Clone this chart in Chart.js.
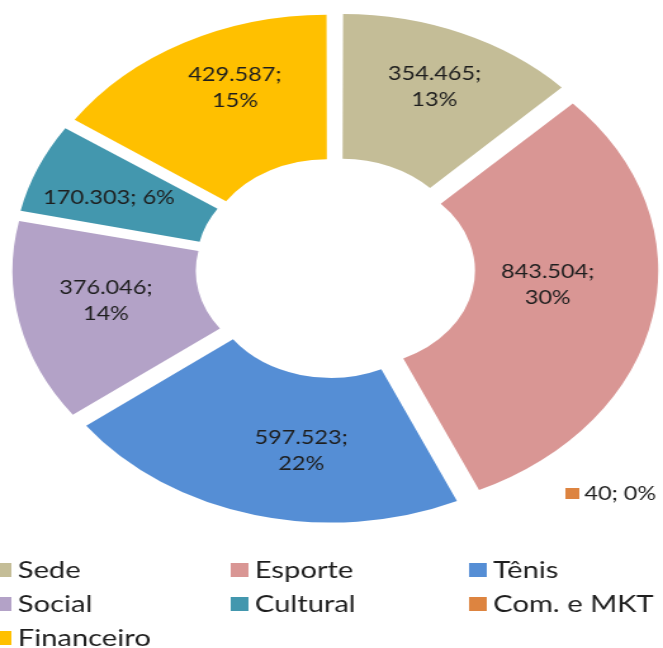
<!DOCTYPE html>
<html><head><meta charset="utf-8">
<script src="https://cdn.jsdelivr.net/npm/chart.js@4.4.1/dist/chart.umd.min.js"></script>
<style>
html,body{margin:0;padding:0;background:#fff;overflow:hidden;width:663px;height:648px;}
#wrap{position:absolute;left:0;top:0;width:523px;height:648px;transform:scaleX(1.2677);transform-origin:0 0;}
canvas{display:block;}
</style></head><body>
<div id="wrap"><canvas id="c" width="523" height="648"></canvas></div>
<script>
// ---- data ----
const categories = ['Sede', 'Esporte', 'Com. e MKT', 'Tênis', 'Social', 'Cultural', 'Financeiro'];
const values = [354465, 843504, 40, 597523, 376046, 170303, 429587];
const percentLabels = ['13%', '30%', '0%', '22%', '14%', '6%', '15%'];
const legendOrder = ['Sede', 'Esporte', 'Tênis', 'Social', 'Cultural', 'Com. e MKT', 'Financeiro'];

// ---- styles / layout ----
const colors = ['#C4BD97', '#D99694', '#DD8440', '#558ED5', '#B3A2C7', '#4397AE', '#FFC000'];
const OFFSET = 56;            // Chart.js v4 translates an arc by offset/4
const TEXT = '#1e1e1e';
// small manual placement tweaks of the data labels (canvas px), like Excel's label layout
const labelNudge = [[6, -11], [-17, -18], [0, 0], [20, 1], [0, -7], [-13, 1], [8, -15]];

function fmt(n) { return String(n).replace(/\B(?=(\d{3})+(?!\d))/g, '.'); }
const total = values.reduce((a, b) => a + b, 0);

// Keep exploded slices at the same radius (undo Chart.js' small-arc radius bump)
const explodeFix = {
  id: 'explodeFix',
  afterDatasetUpdate(chart, args) {
    const meta = args.meta || chart.getDatasetMeta(args.index);
    meta.data.forEach(arc => {
      const off = OFFSET / 4;
      const c = arc.circumference || 0;
      const ro = off * (1 - Math.sin(Math.min(Math.PI, c)));
      arc.outerRadius -= ro;
      arc.innerRadius -= ro;
    });
  }
};

const sliceLabels = {
  id: 'sliceLabels',
  afterDatasetsDraw(chart) {
    const ctx = chart.ctx;
    const meta = chart.getDatasetMeta(0);
    const tr = OFFSET / 4;
    ctx.save();
    ctx.font = '18.5px Lato';
    ctx.textBaseline = 'middle';
    meta.data.forEach((arc, i) => {
      const p = arc.getProps(['x', 'y', 'startAngle', 'endAngle', 'innerRadius', 'outerRadius'], true);
      const mid = (p.startAngle + p.endAngle) / 2;
      const t1 = fmt(values[i]) + ';';
      const t2 = percentLabels[i];
      if (values[i] / total < 0.01) {
        const r = p.outerRadius + tr;
        const ax = p.x + Math.cos(mid) * r + 82;
        const ay = p.y + Math.sin(mid) * r + 6;
        ctx.fillStyle = colors[i];
        ctx.fillRect(ax, ay - 5.5, 11, 11);
        ctx.fillStyle = TEXT;
        ctx.textAlign = 'left';
        ctx.fillText(t1 + ' ' + t2, ax + 15, ay + 1);
        return;
      }
      const r = (p.innerRadius + p.outerRadius) / 2 + tr + 6;
      const lx = p.x + Math.cos(mid) * r + labelNudge[i][0];
      const ly = p.y + Math.sin(mid) * r + labelNudge[i][1];
      ctx.fillStyle = TEXT;
      ctx.textAlign = 'center';
      const one = t1 + ' ' + t2;
      if (ctx.measureText(one).width <= 108) {
        ctx.fillText(one, lx, ly);
      } else {
        ctx.fillText(t1, lx, ly - 13);
        ctx.fillText(t2, lx, ly + 13);
      }
    });
    ctx.restore();
  }
};

const gridLegend = {
  id: 'gridLegend',
  afterDraw(chart) {
    const ctx = chart.ctx;
    const cols = [14, 201, 389];
    const rows = [570, 604, 638];
    ctx.save();
    ctx.font = '23px Lato';
    ctx.textBaseline = 'middle';
    ctx.textAlign = 'left';
    legendOrder.forEach((name, k) => {
      const tx = cols[k % 3], cy = rows[Math.floor(k / 3)];
      const idx = categories.indexOf(name);
      ctx.fillStyle = chart.data.datasets[0].backgroundColor[idx];
      ctx.fillRect(tx - 19, cy - 7, 14, 14);
      ctx.fillStyle = TEXT;
      ctx.fillText(name, tx, cy + 1);
    });
    ctx.restore();
  }
};

new Chart(document.getElementById('c'), {
  type: 'doughnut',
  data: {
    labels: categories,
    datasets: [{
      data: values,
      backgroundColor: colors,
      borderWidth: 0,
      offset: OFFSET,
      hoverOffset: 0
    }]
  },
  options: {
    responsive: false,
    animation: false,
    events: [],
    radius: 241,
    cutout: '40%',
    layout: { padding: { left: 6, right: 0, top: 0, bottom: 112 } },
    plugins: { legend: { display: false }, tooltip: { enabled: false } }
  },
  plugins: [explodeFix, sliceLabels, gridLegend]
});
</script>
</body></html>
